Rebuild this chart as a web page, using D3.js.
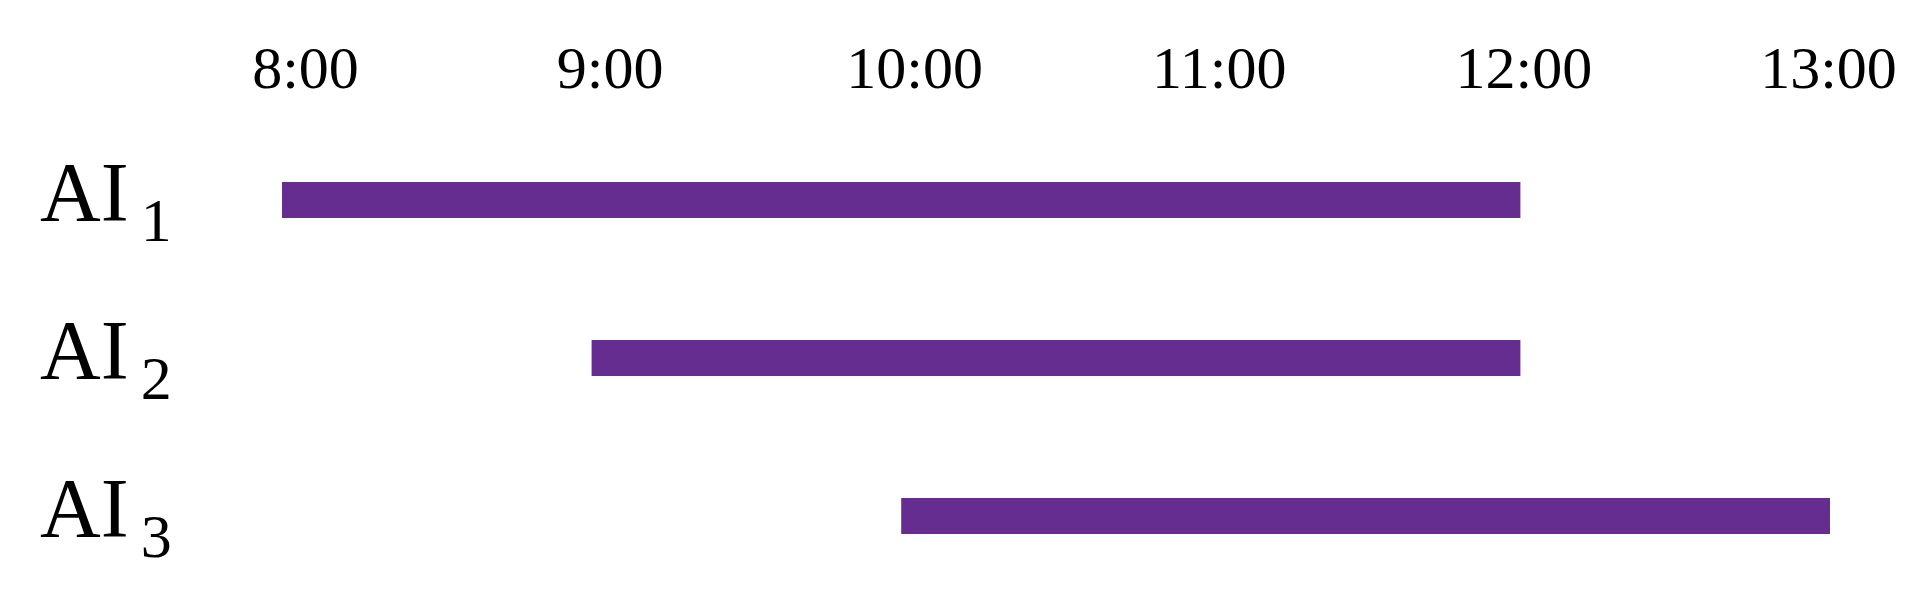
<!DOCTYPE html>
<html>
<head>
<meta charset="utf-8">
<script src="https://cdn.jsdelivr.net/npm/d3@7"></script>
<style>
  html, body { margin: 0; padding: 0; background: #fff; }
  svg { display: block; }
  text { font-family: "Liberation Serif", "Times New Roman", serif; fill: #000; }
</style>
</head>
<body>
<script>
// Data
const categories = ["AI1", "AI2", "AI3"];
const labelMain = ["AI", "AI", "AI"];
const labelSub = ["1", "2", "3"];
const startHour = [8, 9, 10];
const endHour = [12, 12, 13];
const tickHours = [8, 9, 10, 11, 12, 13];
const tickLabels = ["8:00", "9:00", "10:00", "11:00", "12:00", "13:00"];

const W = 1929, H = 600;
const svg = d3.select("body").append("svg").attr("width", W).attr("height", H);

// Scales
const x = d3.scaleLinear().domain([8, 13]).range([282, 1830]);
const xAxisScale = d3.scaleLinear().domain([8, 13]).range([305, 1828]);
const y = d3.scalePoint().domain(categories).range([200, 516]);
const barH = 36;

// Top axis (labels only)
const axis = d3.axisTop(xAxisScale)
  .tickValues(tickHours)
  .tickFormat((d, i) => tickLabels[i])
  .tickSize(0)
  .tickPadding(0);
const gAxis = svg.append("g").attr("transform", "translate(0,88)").call(axis);
gAxis.select(".domain").remove();
gAxis.selectAll("text")
  .style("font-family", '"Liberation Serif", "Times New Roman", serif')
  .style("font-size", "60px")
  .attr("fill", "#000")
  .attr("dy", 0);

// Bars
svg.append("g").selectAll("rect")
  .data(categories)
  .join("rect")
  .attr("x", (d, i) => x(startHour[i]))
  .attr("width", (d, i) => x(endHour[i]) - x(startHour[i]))
  .attr("y", d => y(d) - barH / 2)
  .attr("height", barH)
  .attr("fill", "#662d91");

// Category labels with subscripts
const lbl = svg.append("g").selectAll("text")
  .data(categories)
  .join("text")
  .attr("x", 40)
  .attr("y", d => y(d) + 21)
  .style("font-size", "84px");
lbl.append("tspan").text((d, i) => labelMain[i]);
lbl.append("tspan")
  .attr("dx", 12)
  .attr("dy", 20)
  .style("font-size", "62px")
  .text((d, i) => labelSub[i]);
</script>
</body>
</html>
